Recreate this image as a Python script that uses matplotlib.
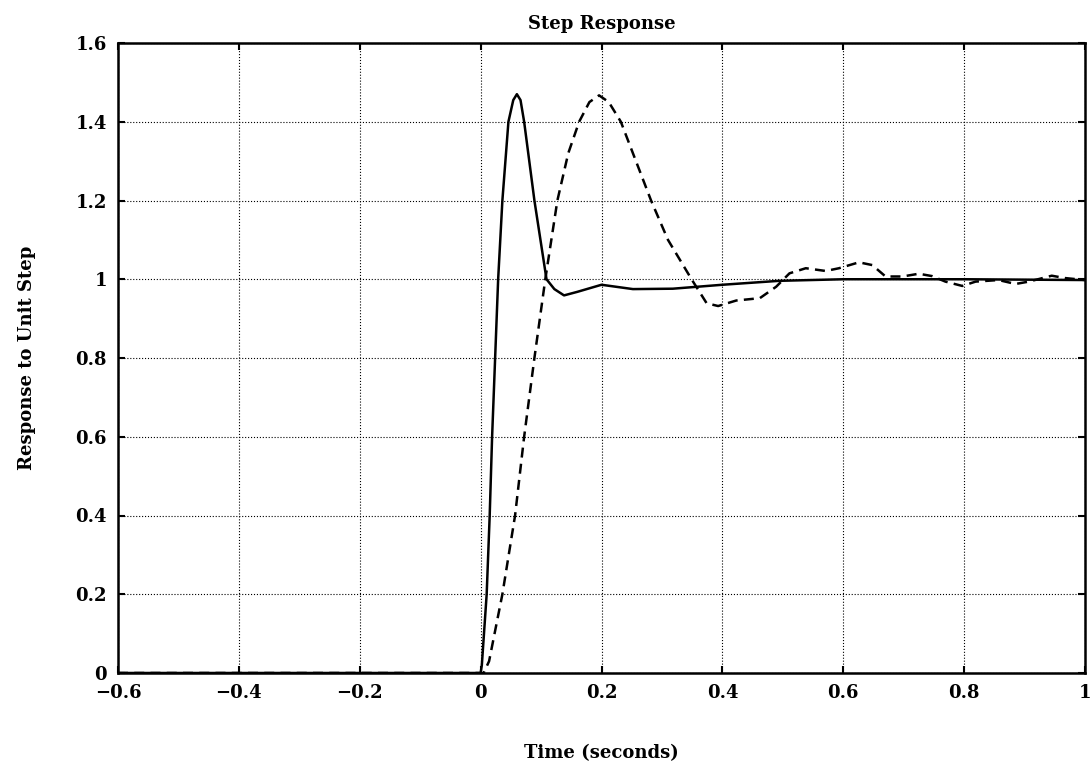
import numpy as np
import matplotlib
matplotlib.use("Agg")
import matplotlib.pyplot as plt

# solid curve (fast response)
t_solid = [-0.6, 0.0, 0.002, 0.010, 0.015, 0.019, 0.024, 0.029, 0.036, 0.046, 0.054,
           0.060, 0.066, 0.072, 0.089, 0.109, 0.122, 0.138, 0.160, 0.200, 0.252,
           0.318, 0.400, 0.494, 0.600, 0.800, 1.0]
y_solid = [0.0, 0.0, 0.02, 0.2, 0.4, 0.6, 0.8, 1.0, 1.2, 1.4, 1.455,
           1.470, 1.455, 1.4, 1.2, 1.0, 0.975, 0.959, 0.968, 0.986, 0.975,
           0.976, 0.986, 0.996, 1.0, 1.0, 0.998]

# dashed curve (slow response)
t_dash = [-0.6, 0.005, 0.014, 0.036, 0.057, 0.072, 0.089, 0.107, 0.127, 0.145, 0.163,
          0.180, 0.196, 0.212, 0.232, 0.282, 0.310, 0.349, 0.374, 0.393, 0.423,
          0.462, 0.489, 0.511, 0.538, 0.571, 0.593, 0.626, 0.648, 0.670, 0.698,
          0.725, 0.747, 0.769, 0.797, 0.819, 0.857, 0.885, 0.907, 0.945, 0.967, 1.0]
y_dash = [0.0, 0.0, 0.03, 0.2, 0.4, 0.6, 0.8, 1.0, 1.2, 1.32, 1.4,
          1.45, 1.467, 1.45, 1.4, 1.2, 1.10, 1.0, 0.939, 0.932, 0.946,
          0.952, 0.981, 1.015, 1.028, 1.021, 1.028, 1.043, 1.036, 1.007, 1.007,
          1.014, 1.008, 0.994, 0.983, 0.994, 0.998, 0.988, 0.994, 1.009, 1.003, 0.998]

xticks = [-0.6, -0.4, -0.2, 0, 0.2, 0.4, 0.6, 0.8, 1]
xlabels = ["\u22120.6", "\u22120.4", "\u22120.2", "0", "0.2", "0.4", "0.6", "0.8", "1"]
yticks = [0, 0.2, 0.4, 0.6, 0.8, 1, 1.2, 1.4, 1.6]
ylabels = ["0", "0.2", "0.4", "0.6", "0.8", "1", "1.2", "1.4", "1.6"]

plt.rcParams['font.family'] = ['DejaVu Serif']
plt.rcParams['font.weight'] = 'bold'

fig = plt.figure(figsize=(10.91, 7.71), dpi=100)
ax = fig.add_axes([118/1091, 1-673/771, (1085-118)/1091, (673-43)/771])

ax.plot(t_solid, y_solid, color='black', lw=1.8, solid_joinstyle='round')
ax.plot(t_dash, y_dash, color='black', lw=1.8, linestyle=(0, (4, 2.5)))

ax.set_xlim(-0.6, 1)
ax.set_ylim(0, 1.6)
ax.set_xticks(xticks)
ax.set_xticklabels(xlabels)
ax.set_yticks(yticks)
ax.set_yticklabels(ylabels)
ax.grid(True, color='black', linestyle=':', linewidth=0.8)
ax.tick_params(direction='in', length=5, width=1.5, top=True, right=True,
               labelsize=13, pad=8)
for s in ax.spines.values():
    s.set_linewidth(1.8)

ax.set_title("Step Response", fontsize=13, fontweight='bold', pad=10)
ax.set_xlabel("Time (seconds)", fontsize=13, fontweight='bold', labelpad=30)
ax.set_ylabel("Response to Unit Step", fontsize=13, fontweight='bold', labelpad=28)

fig.savefig("out.png", dpi=100)
